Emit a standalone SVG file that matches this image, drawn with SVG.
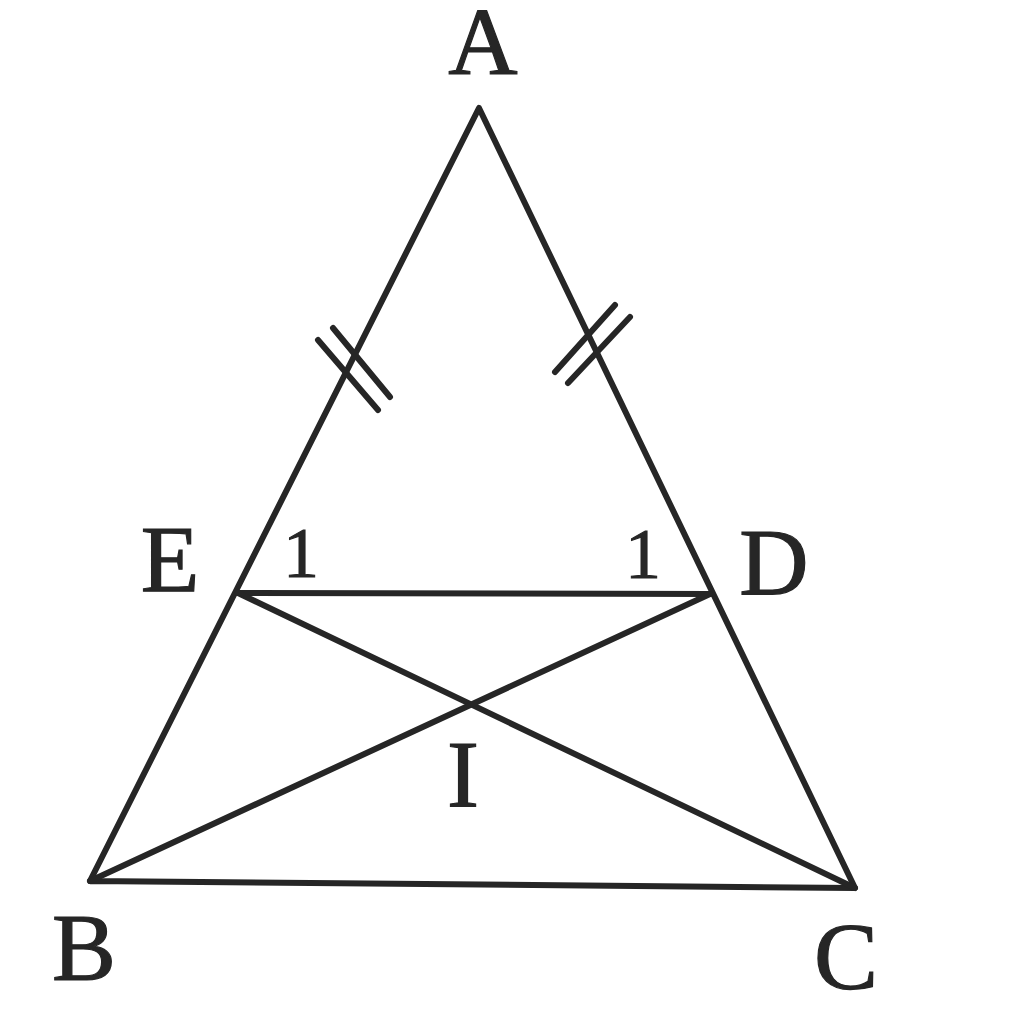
<svg xmlns="http://www.w3.org/2000/svg" width="1024" height="1021" viewBox="0 0 1024 1021">
<style>
.ln{stroke:#262626;stroke-width:6;stroke-linecap:round;stroke-linejoin:round;fill:none}
.tk{stroke:#262626;stroke-width:6;stroke-linecap:round;fill:none}
.lb{font-family:"Liberation Serif","Times New Roman",serif;font-size:96px;fill:#262626;stroke:#262626;stroke-width:1.2;text-anchor:middle}
.an{font-family:"Liberation Serif","Times New Roman",serif;font-size:72px;fill:#262626;stroke:#262626;stroke-width:1;text-anchor:middle}
</style>
<rect width="1024" height="1021" fill="#ffffff"/>
<g id="connectors">
<polyline class="ln" points="90,881 479,108 855,888 90,881"/>
<line class="ln" x1="238" y1="593" x2="710" y2="594"/>
<line class="ln" x1="238" y1="593" x2="855" y2="888"/>
<line class="ln" x1="710" y1="594" x2="90" y2="881"/>
<line class="tk" x1="318" y1="340" x2="378" y2="410"/>
<line class="tk" x1="333" y1="328" x2="390" y2="397"/>
<line class="tk" x1="555" y1="372" x2="615" y2="305"/>
<line class="tk" x1="568" y1="383" x2="630" y2="317"/>
</g>
<g id="node-A"><text class="lb" x="483" y="74">A</text></g>
<g id="node-B"><text class="lb" x="84" y="980">B</text></g>
<g id="node-C"><text class="lb" x="846" y="989">C</text></g>
<g id="node-E"><text class="lb" x="170" y="592">E</text></g>
<g id="node-D"><text class="lb" x="774" y="595">D</text></g>
<g id="node-I"><text class="lb" x="463" y="807">I</text></g>
<g id="angle-E"><text class="an" x="301" y="577">1</text></g>
<g id="angle-D"><text class="an" x="643" y="578">1</text></g>
</svg>
